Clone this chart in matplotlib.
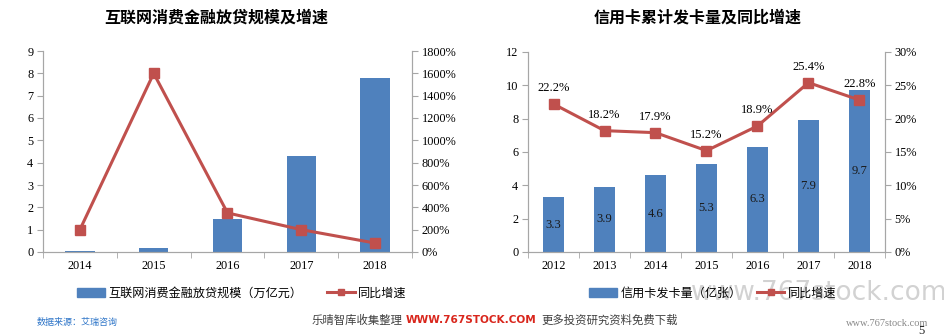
import matplotlib
matplotlib.use("Agg")
import numpy as np
import matplotlib.pyplot as plt
from matplotlib.lines import Line2D
from matplotlib.patches import Patch

plt.rcParams["font.family"] = ["Liberation Serif", "Noto Sans CJK SC"]

# ── data ────────────────────────────────────────────────────────────────
loan_years = ["2014", "2015", "2016", "2017", "2018"]
loan_scale = [0.03, 0.2, 1.5, 4.3, 7.8]            # 万亿元
loan_growth = [200, 1600, 350, 200, 80]            # %

card_years = ["2012", "2013", "2014", "2015", "2016", "2017", "2018"]
card_count = [3.3, 3.9, 4.6, 5.3, 6.3, 7.9, 9.7]   # 亿张
card_growth = [22.2, 18.2, 17.9, 15.2, 18.9, 25.4, 22.8]  # %

BLUE = "#4f81bd"
RED = "#c0504d"
SPINE = "#a6a6a6"
CJK = ["Noto Sans CJK SC", "DejaVu Sans"]

W, H = 945, 335
fig = plt.figure(figsize=(W / 100, H / 100), dpi=100, facecolor="white")


def px_axes(x0, y0, x1, y1):
    return fig.add_axes([x0 / W, 1 - y1 / H, (x1 - x0) / W, (y1 - y0) / H])


def style(ax, ax2, n):
    for a in (ax, ax2):
        a.spines["top"].set_visible(False)
        for s in ("left", "right", "bottom"):
            a.spines[s].set_color(SPINE)
        a.tick_params(axis="both", colors=SPINE, labelcolor="black",
                      labelsize=8.8, length=4, width=0.8)
    ax.set_xlim(-0.5, n - 0.5)
    ax.set_xticks(range(n))
    ax.tick_params(axis="x", length=0, pad=6)
    ax.set_xticks(np.arange(-0.5, n, 1.0), minor=True)
    ax.tick_params(axis="x", which="minor", length=4, color=SPINE)
    ax.tick_params(axis="y", pad=3)
    ax2.tick_params(axis="y", pad=3)


def legend(handles, cx, spacing):
    fig.legend(handles=handles, loc="center", bbox_to_anchor=(cx / W, 1 - 293 / H),
               ncol=2, frameon=False, prop={"family": CJK, "size": 8.7},
               handlelength=2.3, handletextpad=0.3, columnspacing=spacing)


# ── left: internet consumer-finance lending ─────────────────────────────
ax = px_axes(43, 51, 412, 252)
ax2 = ax.twinx()
x = np.arange(len(loan_years))
ax.bar(x, loan_scale, width=0.4, color=BLUE, zorder=2)
ax.set_ylim(0, 9)
ax.set_yticks(range(0, 10))
ax.set_xticklabels(loan_years)
ax2.plot(x, loan_growth, color=RED, lw=2.2, marker="s", ms=7, zorder=3)
ax2.set_ylim(0, 1800)
ax2.set_yticks(range(0, 1801, 200))
ax2.set_yticklabels([f"{v}%" for v in range(0, 1801, 200)])
style(ax, ax2, len(loan_years))
fig.text(216 / W, 1 - 18 / H, "互联网消费金融放贷规模及增速", family=CJK,
         fontsize=11.5, fontweight="bold", ha="center", va="center")

legend([Patch(color=BLUE, label="互联网消费金融放贷规模（万亿元）"),
        Line2D([], [], color=RED, lw=2.2, marker="s", ms=5, label="同比增速")],
       242, 2.0)

# ── right: credit cards issued ──────────────────────────────────────────
bx = px_axes(528, 52, 885, 252)
bx2 = bx.twinx()
x = np.arange(len(card_years))
bars = bx.bar(x, card_count, width=0.41, color=BLUE, zorder=2)
for b, v in zip(bars, card_count):
    bx.text(b.get_x() + b.get_width() / 2, v / 2, f"{v:.1f}",
            ha="center", va="center", fontsize=9, color="#1a1a1a", zorder=4)
bx.set_ylim(0, 12)
bx.set_yticks(range(0, 13, 2))
bx.set_xticklabels(card_years)
bx2.plot(x, card_growth, color=RED, lw=2.2, marker="s", ms=7, zorder=3)
for xi, v in zip(x, card_growth):
    bx2.annotate(f"{v:.1f}%", (xi, v), xytext=(0, 7), textcoords="offset points",
                 ha="center", va="bottom", fontsize=9)
bx2.set_ylim(0, 30)
bx2.set_yticks(range(0, 31, 5))
bx2.set_yticklabels([f"{v}%" for v in range(0, 31, 5)])
style(bx, bx2, len(card_years))
fig.text(698 / W, 1 - 18 / H, "信用卡累计发卡量及同比增速", family=CJK,
         fontsize=11.5, fontweight="bold", ha="center", va="center")

# site watermark sitting behind the right legend
fig.text(948 / W, 1 - 293 / H, "www.767stock.com", family="DejaVu Sans",
         fontsize=19, color="#d2d2d2", ha="right", va="center", zorder=0)

legend([Patch(color=BLUE, label="信用卡发卡量（亿张）"),
        Line2D([], [], color=RED, lw=2.2, marker="s", ms=5, label="同比增速")],
       713, 1.2)

# ── footer ──────────────────────────────────────────────────────────────
fig.text(37 / W, 1 - 322 / H, "数据来源：艾瑞咨询", family=CJK, fontsize=6.5,
         color="#2e75c8", ha="left", va="center")
fig.text(403 / W, 1 - 320 / H, "乐晴智库收集整理", family=CJK, fontsize=8.2,
         color="#404040", ha="right", va="center")
fig.text(406 / W, 1 - 320 / H, "WWW.767STOCK.COM", family="DejaVu Sans",
         fontsize=7.6, fontweight="bold", color="#d9261c", ha="left", va="center")
fig.text(541 / W, 1 - 320 / H, "更多投资研究资料免费下载", family=CJK,
         fontsize=8.2, color="#404040", ha="left", va="center")
fig.text(887 / W, 1 - 324 / H, "www.767stock.com", family="Liberation Serif",
         fontsize=7.5, color="#888888", ha="center", va="center")
fig.text(921 / W, 1 - 331 / H, "5", fontsize=9, color="#222222",
         ha="center", va="center")

fig.savefig("out.png", dpi=100, facecolor="white")
